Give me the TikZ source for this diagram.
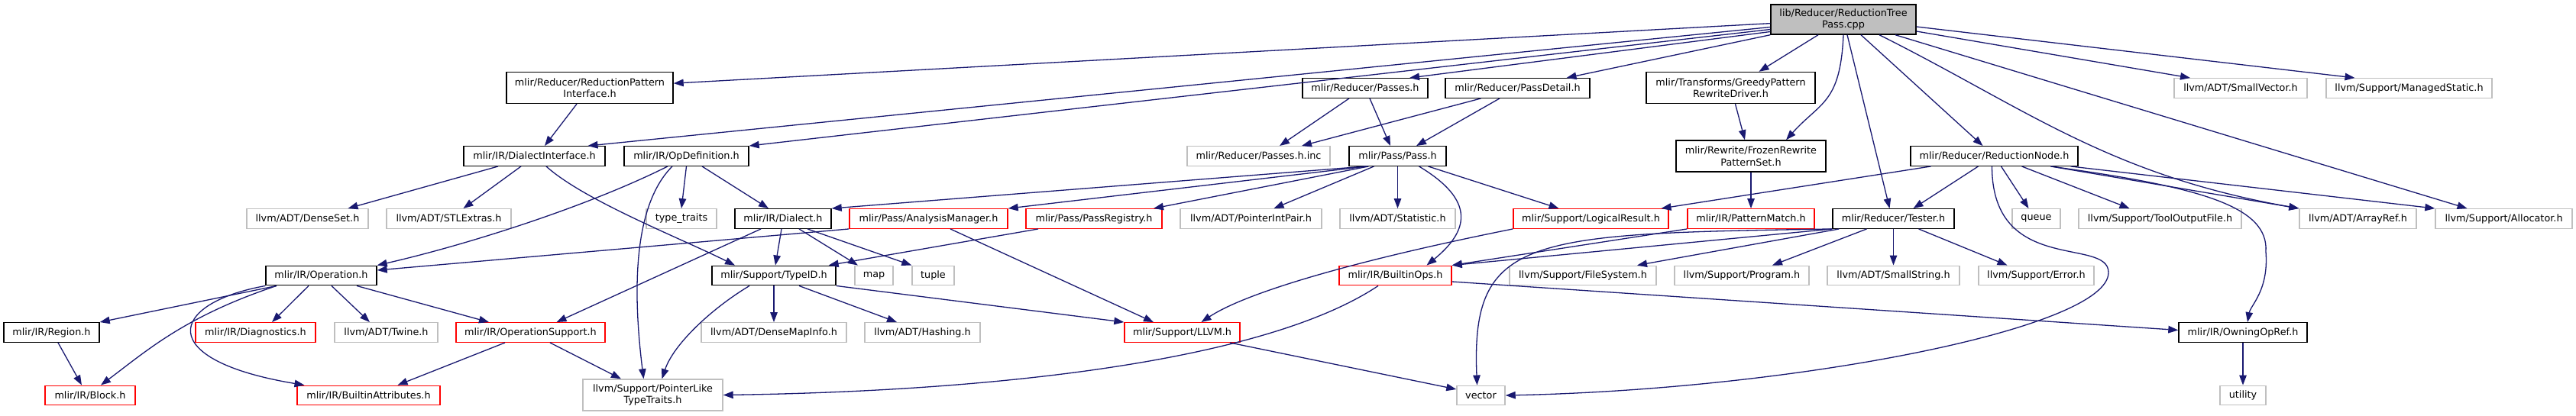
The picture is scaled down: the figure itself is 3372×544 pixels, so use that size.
\documentclass[tikz,border=0pt]{standalone}
\usepackage{fontspec}
\setmainfont{DejaVu Sans}
\usetikzlibrary{arrows.meta}
\definecolor{edgec}{HTML}{191970}
\definecolor{grayb}{HTML}{BFBFBF}
\definecolor{redb}{HTML}{FF0000}
\tikzset{
  box/.style={draw, line width=1.4pt, inner sep=0pt, minimum height=25.5pt, align=center, fill=white,
    font=\fontsize{12.8pt}{15.5pt}\selectfont},
  blk/.style={box, draw=black},
  gry/.style={box, draw=grayb},
  rdb/.style={box, draw=redb},
  two/.style={minimum height=41pt},
  e/.style={draw=edgec, line width=1.3pt, -{Triangle[length=13pt,width=9.5pt]}}
}
\begin{document}
\begin{tikzpicture}[x=1pt,y=-1pt]
\useasboundingbox (0,0) rectangle (3372,544);
% rank 0
\node[blk, fill=grayb, minimum width=190pt, minimum height=39pt] (root) at (2413,25.5) {lib/Reducer/ReductionTree\\Pass.cpp};
% rank 1
\node[blk,two,minimum width=218pt] (rpi) at (772,115) {mlir/Reducer/ReductionPattern\\Interface.h};
\node[blk,minimum width=164pt] (passes) at (1787,115.5) {mlir/Reducer/Passes.h};
\node[blk,minimum width=189pt] (passdetail) at (1986.5,115.5) {mlir/Reducer/PassDetail.h};
\node[blk,two,minimum width=221pt] (greedy) at (2265.5,115) {mlir/Transforms/GreedyPattern\\RewriteDriver.h};
\node[gry,minimum width=174pt] (smallvec) at (2933,115.5) {llvm/ADT/SmallVector.h};
\node[gry,minimum width=217pt] (managed) at (3153.5,115.5) {llvm/Support/ManagedStatic.h};
% rank 2
\node[blk,minimum width=185pt] (dialectif) at (699.5,204.5) {mlir/IR/DialectInterface.h};
\node[blk,minimum width=163pt] (opdef) at (898.5,204.5) {mlir/IR/OpDefinition.h};
\node[gry,minimum width=187pt] (passesinc) at (1647.5,204.5) {mlir/Reducer/Passes.h.inc};
\node[blk,minimum width=127pt] (pass) at (1829.5,204.5) {mlir/Pass/Pass.h};
\node[blk,two,minimum width=196pt] (frozen) at (2292,204.5) {mlir/Rewrite/FrozenRewrite\\PatternSet.h};
\node[blk,minimum width=219pt] (rnode) at (2610.5,204.5) {mlir/Reducer/ReductionNode.h};
% rank 3
\node[gry,minimum width=159pt] (denseset) at (402.5,286.5) {llvm/ADT/DenseSet.h};
\node[gry,minimum width=163pt] (stlextras) at (587.5,286.5) {llvm/ADT/STLExtras.h};
\node[gry,minimum width=92pt] (typetraits) at (892,286.5) {type\_traits};
\node[blk,minimum width=126pt] (dialect) at (1025,286.5) {mlir/IR/Dialect.h};
\node[rdb,minimum width=207pt] (analysis) at (1215.5,286.5) {mlir/Pass/AnalysisManager.h};
\node[rdb,minimum width=178pt] (passreg) at (1432,286.5) {mlir/Pass/PassRegistry.h};
\node[gry,minimum width=185pt] (pip) at (1637.5,286.5) {llvm/ADT/PointerIntPair.h};
\node[gry,minimum width=151pt] (statistic) at (1829.5,286.5) {llvm/ADT/Statistic.h};
\node[rdb,minimum width=203pt] (logical) at (2082.5,286.5) {mlir/Support/LogicalResult.h};
\node[rdb,minimum width=166pt] (patmatch) at (2292,286.5) {mlir/IR/PatternMatch.h};
\node[blk,minimum width=159pt] (tester) at (2478.5,286.5) {mlir/Reducer/Tester.h};
\node[gry,minimum width=63pt] (queue) at (2665.5,286.5) {queue};
\node[gry,minimum width=213pt] (toolout) at (2827.5,286.5) {llvm/Support/ToolOutputFile.h};
\node[gry,minimum width=153pt] (arrayref) at (3086.5,286.5) {llvm/ADT/ArrayRef.h};
\node[gry,minimum width=179pt] (allocator) at (3277.5,286.5) {llvm/Support/Allocator.h};
% rank 4
\node[blk,minimum width=145pt] (operation) at (420.5,361) {mlir/IR/Operation.h};
\node[blk,minimum width=162pt] (typeid) at (1013,361) {mlir/Support/TypeID.h};
\node[gry,minimum width=50pt] (map) at (1144,361) {map};
\node[gry,minimum width=55pt] (tuple) at (1221.5,361) {tuple};
\node[rdb,minimum width=147pt] (builtinops) at (1826.5,361) {mlir/IR/BuiltinOps.h};
\node[gry,minimum width=192pt] (filesystem) at (2072,361) {llvm/Support/FileSystem.h};
\node[gry,minimum width=176pt] (program) at (2280,361) {llvm/Support/Program.h};
\node[gry,minimum width=173pt] (smallstring) at (2478.5,361) {llvm/ADT/SmallString.h};
\node[gry,minimum width=151pt] (error) at (2665.5,361) {llvm/Support/Error.h};
% rank 5
\node[blk,minimum width=125pt] (region) at (67.5,435.5) {mlir/IR/Region.h};
\node[rdb,minimum width=157pt] (diag) at (334.5,435.5) {mlir/IR/Diagnostics.h};
\node[gry,minimum width=135pt] (twine) at (505.5,435.5) {llvm/ADT/Twine.h};
\node[rdb,minimum width=195pt] (opsupport) at (694.5,435.5) {mlir/IR/OperationSupport.h};
\node[gry,minimum width=190pt] (densemapinfo) at (1013,435.5) {llvm/ADT/DenseMapInfo.h};
\node[gry,minimum width=151pt] (hashing) at (1207.5,435.5) {llvm/ADT/Hashing.h};
\node[rdb,minimum width=151pt] (llvmh) at (1547.5,435.5) {mlir/Support/LLVM.h};
\node[blk,minimum width=168pt] (owning) at (2936,435.5) {mlir/IR/OwningOpRef.h};
% rank 6
\node[rdb,minimum width=118pt] (block) at (118,518) {mlir/IR/Block.h};
\node[rdb,minimum width=187pt] (battr) at (482.5,518) {mlir/IR/BuiltinAttributes.h};
\node[gry,two,minimum width=183pt] (ptrlike) at (854.5,517.5) {llvm/Support/PointerLike\\TypeTraits.h};
\node[gry,minimum width=63pt] (vector) at (1938.5,518) {vector};
\node[gry,minimum width=60pt] (utility) at (2936,518) {utility};
\coordinate (rnv) at (2760,357);
\coordinate (rno) at (2966,330);

% root edges
\draw[e] (root) -- (rpi);
\draw[e] ([yshift=-10pt]root.west) -- ([xshift=70pt]dialectif.north);
\draw[e] ([yshift=-13pt]root.west) -- (opdef.north east);
\draw[e] ([yshift=-16pt]root.west) -- ([xshift=58pt]passes.north);
\draw[e] (root.south west) -- ([xshift=64pt]passdetail.north);
\draw[e] ([xshift=-33pt]root.south) -- ([xshift=37pt]greedy.north);
\draw[e] (root.south) .. controls +(-4,90) and +(45,-50) .. ([xshift=46pt]frozen.north);
\draw[e] ([xshift=5pt]root.south) -- ([xshift=-5pt]tester.north);
\draw[e] ([xshift=23pt]root.south) -- ([xshift=-15pt]rnode.north);
\draw[e] ([yshift=-15.5pt]root.east) -- ([xshift=-66pt]smallvec.north);
\draw[e] ([yshift=-9.5pt]root.east) -- ([xshift=-71pt]managed.north);
\draw[e] ([xshift=68pt]root.south) -- ([xshift=-48pt]allocator.north);
\draw[e] ([xshift=47pt]root.south) .. controls +(190,95) and +(-250,-44) .. (arrayref.north west);
% reduction node
\draw[e] ([xshift=-83pt]rnode.south) -- ([xshift=92pt]logical.north);
\draw[e] ([xshift=-21pt]rnode.south) -- ([xshift=26pt]tester.north);
\draw[e] ([xshift=9pt]rnode.south) -- ([xshift=-10pt]queue.north);
\draw[e] ([xshift=36pt]rnode.south) -- ([xshift=-40pt]toolout.north);
\draw[e] ([xshift=74pt]rnode.south) -- (arrayref.north west);
\draw[e] ([xshift=100pt]rnode.south) -- (allocator.north west);
\draw[e] ([xshift=74pt]rnode.south) .. controls (2880,245) and (2970,270) .. (rno)
  .. controls (2970,380) and (2946,400) .. ([xshift=6pt]owning.north);
\draw[e] ([xshift=-3pt]rnode.south) .. controls +(0,143) and (2760,310) .. (rnv)
  .. controls (2760,430) and +(380,-8) .. (vector.east);
% tester
\draw[e] (tester.south west) -- (builtinops.north east);
\draw[e] (tester.south west) .. controls +(-400,6) and +(-8,-195) .. ([xshift=-5pt]vector.north);
\draw[e] ([xshift=9pt]tester.south west) -- ([xshift=71pt]filesystem.north);
\draw[e] ([xshift=-35pt]tester.south) -- ([xshift=40pt]program.north);
\draw[e] (tester) -- (smallstring);
\draw[e] ([xshift=33pt]tester.south) -- ([xshift=-38pt]error.north);
% misc
\draw[e] (logical.south west) .. controls +(-200,40) and +(60,-40) .. ([xshift=25pt]llvmh.north);
\draw[e] (patmatch.south west) -- (builtinops.north east);
\draw[e] (frozen) -- (patmatch);
\draw[e] ([xshift=6pt]greedy.south) -- ([xshift=-8pt]frozen.north);
\draw[e] ([xshift=-21pt]passes.south) -- ([xshift=27.5pt]passesinc.north);
\draw[e] ([xshift=6pt]passes.south) -- ([xshift=-9.5pt]pass.north);
\draw[e] ([xshift=-48pt]passdetail.south) -- ([xshift=56.5pt]passesinc.north);
\draw[e] ([xshift=-23.5pt]passdetail.south) -- ([xshift=24.5pt]pass.north);
\draw[e] ([xshift=-17pt]rpi.south) -- ([xshift=13.5pt]dialectif.north);
% dialect interface
\draw[e] ([xshift=-47.5pt]dialectif.south) -- ([xshift=53pt]denseset.north);
\draw[e] ([xshift=-17.5pt]dialectif.south) -- ([xshift=19pt]stlextras.north);
\draw[e] ([xshift=15.5pt]dialectif.south) .. controls +(50,45) and +(-70,-35) .. ([xshift=-51pt]typeid.north);
% op definition
\draw[e] ([xshift=-24.5pt]opdef.south) .. controls +(-110,55) and +(110,-25) .. (operation.north east);
\draw[e] ([xshift=-18.5pt]opdef.south) .. controls +(-50,50) and +(-15,-120) .. ([xshift=-12pt]ptrlike.north);
\draw[e] (opdef.south) -- (typetraits.north);
\draw[e] ([xshift=20.5pt]opdef.south) -- ([xshift=-19pt]dialect.north);
% dialect
\draw[e] ([xshift=-29pt]dialect.south) -- ([xshift=34pt]opsupport.north);
\draw[e] ([xshift=-2pt]dialect.south) -- ([xshift=2pt]typeid.north);
\draw[e] ([xshift=21pt]dialect.south) -- ([xshift=-21pt]map.north);
\draw[e] ([xshift=32pt]dialect.south) -- (tuple.north west);
% analysis / registry
\draw[e] (analysis.south west) -- ([yshift=7pt]operation.east);
\draw[e] ([xshift=28.5pt]analysis.south) -- ([xshift=-37.5pt]llvmh.north);
\draw[e] ([xshift=-73pt]passreg.south) -- ([xshift=-10pt]typeid.north east);
% pass
\draw[e] ([xshift=-42pt]pass.south) -- (dialect.north east);
\draw[e] ([xshift=-40pt]pass.south) -- (analysis.north east);
\draw[e] ([xshift=-38pt]pass.south) -- ([xshift=78pt]passreg.north);
\draw[e] ([xshift=-31pt]pass.south) -- ([xshift=30pt]pip.north);
\draw[e] (pass) -- (statistic);
\draw[e] ([xshift=28pt]pass.south) .. controls +(75,45) and +(55,-45) .. ([xshift=41pt]builtinops.north);
\draw[e] ([xshift=40pt]pass.south) -- ([xshift=-42pt]logical.north);
% typeid
\draw[e] ([xshift=-32pt]typeid.south) .. controls +(-50,30) and +(15,-45) .. ([xshift=12pt]ptrlike.north);
\draw[e] (typeid) -- (densemapinfo);
\draw[e] ([xshift=33pt]typeid.south) -- ([xshift=-33.5pt]hashing.north);
\draw[e] (typeid.south east) -- (llvmh.north west);
% operation
\draw[e] ([xshift=-58.5pt]operation.south) -- (region.north east);
\draw[e] ([xshift=-58.5pt]operation.south) .. controls +(-120,40) and +(60,-45) .. ([xshift=14pt]block.north);
\draw[e] (operation.south west) .. controls +(-127,23) and +(-198,-33) .. ([xshift=-84pt]battr.north);
\draw[e] ([xshift=-16.5pt]operation.south) -- ([xshift=21.5pt]diag.north);
\draw[e] ([xshift=13.5pt]operation.south) -- ([xshift=-21.5pt]twine.north);
\draw[e] ([xshift=46.5pt]operation.south) -- ([xshift=-54.5pt]opsupport.north);
\draw[e] ([xshift=8.5pt]region.south) -- ([xshift=-11pt]block.north);
\draw[e] ([xshift=-33.5pt]opsupport.south) -- ([xshift=38pt]battr.north);
\draw[e] ([xshift=25.5pt]opsupport.south) -- ([xshift=-41.5pt]ptrlike.north);
\draw[e] ([xshift=62.5pt]llvmh.south) -- ([yshift=8pt]vector.west);
\draw[e] ([yshift=-8pt]builtinops.east) -- ([yshift=3pt]owning.west);
\draw[e] ([xshift=-22.5pt]builtinops.south) .. controls +(-150,100) and +(350,-5) .. (ptrlike.east);
\draw[e] (owning) -- (utility);
\end{tikzpicture}
\end{document}
